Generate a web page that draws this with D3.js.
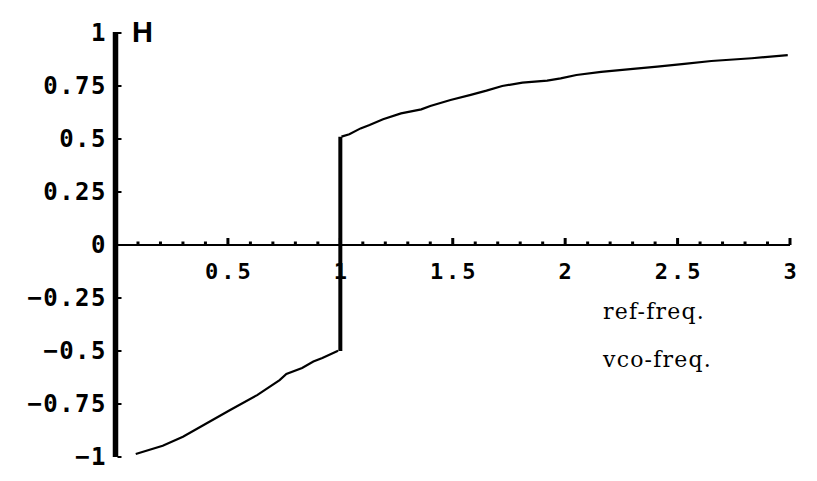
<!DOCTYPE html>
<html>
<head>
<meta charset="utf-8">
<script src="https://cdn.jsdelivr.net/npm/d3@7"></script>
<style>
  html, body { margin: 0; padding: 0; background: #fff; }
  svg { display: block; }
</style>
</head>
<body>
<script>
// ---- data ----
const xTickValues = [0.5, 1, 1.5, 2, 2.5, 3];
const xTickLabels = ["0.5", "1", "1.5", "2", "2.5", "3"];
const xMinorTicks = d3.range(1, 31).map(i => i / 10);
const yTickValues = [1, 0.75, 0.5, 0.25, 0, -0.25, -0.5, -0.75, -1];
const yTickLabels = ["1", "0.75", "0.5", "0.25", "0", "\u22120.25", "\u22120.5", "\u22120.75", "\u22121"];

// lower branch (ratio < 1)
const lowerRatio = [0.09, 0.21, 0.30, 0.40, 0.51, 0.63, 0.73, 0.76, 0.83, 0.88, 0.92, 0.99];
const lowerH     = [-0.986, -0.947, -0.904, -0.844, -0.778, -0.708, -0.637, -0.608, -0.580, -0.550, -0.533, -0.499];
// upper branch (ratio > 1)
const upperRatio = [1.005, 1.04, 1.09, 1.13, 1.19, 1.27, 1.36, 1.40, 1.49, 1.58, 1.65, 1.72, 1.81, 1.92, 1.98, 2.05, 2.16, 2.29, 2.41, 2.53, 2.65, 2.83, 2.99];
const upperH     = [0.511, 0.522, 0.550, 0.566, 0.593, 0.621, 0.640, 0.656, 0.684, 0.708, 0.728, 0.750, 0.766, 0.775, 0.786, 0.802, 0.817, 0.830, 0.841, 0.854, 0.868, 0.881, 0.896];
// jump at ratio = 1
const jumpRatio = [1, 1];
const jumpH = [-0.5, 0.511];

const axisLabel = "H";
const noteLines = ["ref-freq.", "vco-freq."];

// ---- drawing ----
const W = 817, H = 481;
const svg = d3.select("body").append("svg").attr("width", W).attr("height", H);
svg.append("rect").attr("width", W).attr("height", H).attr("fill", "#fff");

const x = d3.scaleLinear().domain([0, 3]).range([115.5, 790]);
const y = d3.scaleLinear().domain([-1, 1]).range([457, 33]);

// x axis line
svg.append("line")
  .attr("x1", x(0)).attr("x2", x(3))
  .attr("y1", y(0)).attr("y2", y(0))
  .attr("stroke", "#000").attr("stroke-width", 2);

// x ticks (above axis)
const isMajor = d => Math.abs(d * 2 - Math.round(d * 2)) < 1e-6;
svg.selectAll("rect.xt").data(xMinorTicks).join("rect")
  .attr("class", "xt")
  .attr("x", d => x(d) - 1.5)
  .attr("width", 3)
  .attr("y", d => y(0) - (isMajor(d) ? 7 : 3.5))
  .attr("height", d => (isMajor(d) ? 7 : 3.5))
  .attr("fill", "#000");

// x labels
svg.selectAll("text.xl").data(xTickValues).join("text")
  .attr("class", "xl")
  .attr("x", d => x(d) + 1.5)
  .attr("y", 279)
  .attr("text-anchor", "middle")
  .attr("font-family", "DejaVu Sans Mono")
  .attr("font-weight", "bold")
  .attr("font-size", 22)
  .attr("letter-spacing", 3)
  .attr("fill", "#000")
  .text((d, i) => xTickLabels[i]);

// y axis (thick)
svg.append("line")
  .attr("x1", x(0)).attr("x2", x(0))
  .attr("y1", y(1) - 1).attr("y2", y(-1))
  .attr("stroke", "#000").attr("stroke-width", 5.5);

// y ticks (right of axis)
svg.selectAll("rect.yt").data(yTickValues).join("rect")
  .attr("class", "yt")
  .attr("x", x(0) + 2)
  .attr("width", 4)
  .attr("y", d => y(d) - 1)
  .attr("height", 2)
  .attr("fill", "#000");

// y labels
svg.selectAll("text.yl").data(yTickValues).join("text")
  .attr("class", "yl")
  .attr("x", 107)
  .attr("y", d => y(d) + 8)
  .attr("text-anchor", "end")
  .attr("font-family", "DejaVu Sans Mono")
  .attr("font-weight", "bold")
  .attr("font-size", 24)
  .attr("letter-spacing", 1.5)
  .attr("fill", "#000")
  .text((d, i) => yTickLabels[i]);

// curve
const line = d3.line().x(d => x(d[0])).y(d => y(d[1]));
svg.append("path")
  .datum(lowerRatio.map((r, i) => [r, lowerH[i]]))
  .attr("d", line).attr("fill", "none").attr("stroke", "#000").attr("stroke-width", 2.2);
svg.append("path")
  .datum(upperRatio.map((r, i) => [r, upperH[i]]))
  .attr("d", line).attr("fill", "none").attr("stroke", "#000").attr("stroke-width", 2.2);
svg.append("path")
  .datum(jumpRatio.map((r, i) => [r, jumpH[i]]))
  .attr("d", line).attr("fill", "none").attr("stroke", "#000").attr("stroke-width", 4);

// axis label H
svg.append("text")
  .attr("x", 132).attr("y", 42)
  .attr("font-family", "Liberation Sans")
  .attr("font-weight", "bold")
  .attr("font-size", 29)
  .attr("fill", "#000")
  .text(axisLabel);

// annotations
svg.selectAll("text.note").data(noteLines).join("text")
  .attr("class", "note")
  .attr("x", 603)
  .attr("y", (d, i) => i === 0 ? 319 : 367)
  .attr("font-family", "DejaVu Serif")
  .attr("font-size", 22)
  .attr("letter-spacing", 1.2)
  .attr("fill", "#000")
  .text(d => d);
</script>
</body>
</html>
